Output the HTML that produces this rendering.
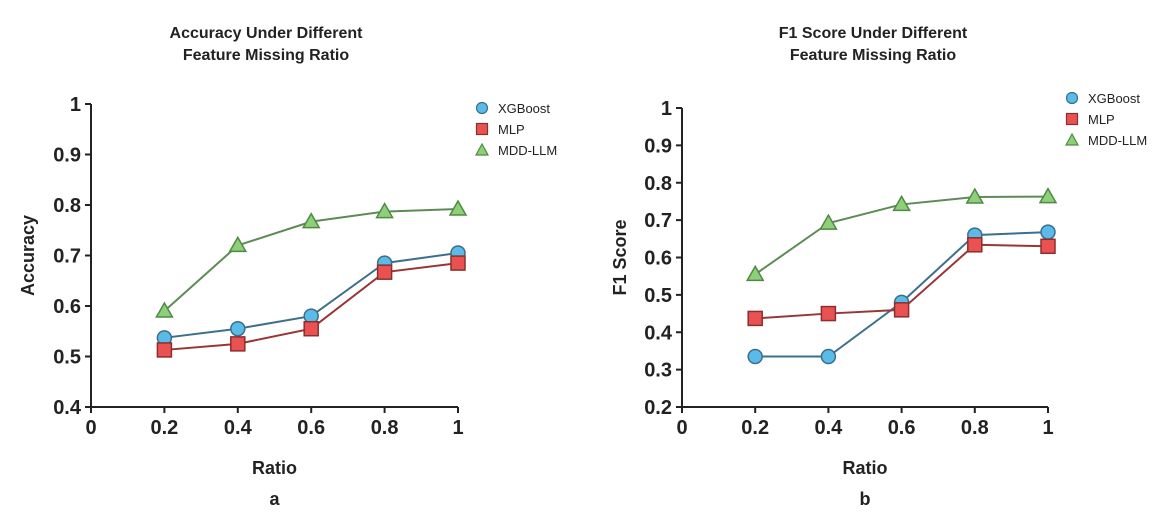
<!DOCTYPE html>
<html><head><meta charset="utf-8"><style>
body{margin:0;background:#fff}
svg{display:block;font-family:"Liberation Sans",Arial,sans-serif}
</style></head><body>
<svg id="s" width="1158" height="519" viewBox="0 0 1158 519"></svg>
<script>
const ratios=[0.2,0.4,0.6,0.8,1];
const xTicks=[0,0.2,0.4,0.6,0.8,1];
const accXGB=[0.537,0.555,0.58,0.685,0.705];
const accMLP=[0.513,0.525,0.555,0.667,0.685];
const accMDD=[0.59,0.72,0.767,0.787,0.792];
const f1XGB=[0.335,0.335,0.48,0.66,0.668];
const f1MLP=[0.437,0.45,0.46,0.634,0.63];
const f1MDD=[0.555,0.692,0.742,0.762,0.763];
const accTicks=[0.4,0.5,0.6,0.7,0.8,0.9,1];
const f1Ticks=[0.2,0.3,0.4,0.5,0.6,0.7,0.8,0.9,1];
const seriesNames=["XGBoost","MLP","MDD-LLM"];
const NS="http://www.w3.org/2000/svg";
const svg=document.getElementById('s');
function mk(t,a,p){const e=document.createElementNS(NS,t);for(const k in a)e.setAttribute(k,a[k]);(p||svg).appendChild(e);return e;}
function txt(s,a,p){const e=mk('text',a,p);e.textContent=s;return e;}
function marker(g,type,x,y){
  let e;
  if(type===0)e=mk('circle',{cx:x,cy:y,r:7,fill:'#5bbbe8',stroke:'#3a6f8a','stroke-width':1.5},g);
  else if(type===1)e=mk('rect',{x:x-7,y:y-7,width:14,height:14,fill:'#ea5252',stroke:'#8a2f2f','stroke-width':1.5},g);
  else e=mk('polygon',{points:`${x},${y-8} ${x-8},${y+6} ${x+8},${y+6}`,fill:'#8fcf7a',stroke:'#4e8a44','stroke-width':1.5},g);
  return e;
}
function chart(o){
  const g=mk('g',{});
  
  
  const X=v=>o.x0+(o.x1-o.x0)*v;
  const Y=v=>o.yb+(o.yt-o.yb)*(v-o.ymin)/(o.ymax-o.ymin);
  const t1=txt(o.title[0],{x:o.cx,y:38,'text-anchor':'middle','font-size':16,'font-weight':'bold',fill:'#222'},g);
  
  const t2=txt(o.title[1],{x:o.cx,y:60,'text-anchor':'middle','font-size':16,'font-weight':'bold',fill:'#222'},g);
  
  const ya=mk('line',{x1:o.x0,y1:o.yb,x2:o.x0,y2:o.yt,stroke:'#222','stroke-width':2},g);
  
  const xa=mk('line',{x1:o.x0,y1:o.yb,x2:X(1),y2:o.yb,stroke:'#222','stroke-width':2},g);
  
  o.yticks.forEach(v=>{
    mk('line',{x1:o.x0-6,y1:Y(v),x2:o.x0,y2:Y(v),stroke:'#222','stroke-width':2},g);
    const l=txt(String(v),{x:o.x0-10,y:Y(v)+7,'text-anchor':'end','font-size':20,'font-weight':'bold',fill:'#222'},g);
    
  });
  xTicks.forEach(v=>{
    mk('line',{x1:X(v),y1:o.yb,x2:X(v),y2:o.yb+6,stroke:'#222','stroke-width':2},g);
    const l=txt(String(v),{x:X(v),y:o.yb+27,'text-anchor':'middle','font-size':20,'font-weight':'bold',fill:'#222'},g);
    
  });
  const xt=txt('Ratio',{x:(o.x0+X(1))/2,y:474,'text-anchor':'middle','font-size':18,'font-weight':'bold',fill:'#222'},g);
  
  const pl=txt(o.panel,{x:(o.x0+X(1))/2,y:505,'text-anchor':'middle','font-size':18,'font-weight':'bold',fill:'#222'},g);
  
  const yt=txt(o.ytitle,{x:0,y:0,'text-anchor':'middle','font-size':18,'font-weight':'bold',fill:'#222',transform:`translate(${o.ytx},${(o.yb+o.yt)/2}) rotate(-90)`},g);
  
  const cols=['#3d6f8c','#9a3535','#5e8a57'];
  o.series.forEach((s,i)=>{
    const pts=ratios.map((r,j)=>X(r)+','+Y(s[j])).join(' ');
    const ln=mk('polyline',{points:pts,fill:'none',stroke:cols[i],'stroke-width':2},g);
    
  });
  o.series.forEach((s,i)=>{
    ratios.forEach((r,j)=>{
      const m=marker(g,i,X(r),Y(s[j]));
      
      
    });
  });
  seriesNames.forEach((n,i)=>{
    const ly=o.ly+i*21;
    const lg=mk('g',{},g);
    
    if(i===0)mk('circle',{cx:o.lx,cy:ly,r:5.5,fill:'#5bbbe8',stroke:'#3a6f8a','stroke-width':1.2},lg);
    else if(i===1)mk('rect',{x:o.lx-5.5,y:ly-5.5,width:11,height:11,fill:'#ea5252',stroke:'#8a2f2f','stroke-width':1.2},lg);
    else mk('polygon',{points:`${o.lx},${ly-6} ${o.lx-6},${ly+5} ${o.lx+6},${ly+5}`,fill:'#8fcf7a',stroke:'#4e8a44','stroke-width':1.2},lg);
    txt(n,{x:o.lx+16,y:ly+5,'font-size':13,fill:'#222'},lg);
  });
}
chart({name:'accuracy-chart',title:['Accuracy Under Different','Feature Missing Ratio'],cx:266,x0:91,x1:458,yb:407,yt:104,ymin:0.4,ymax:1,yticks:accTicks,series:[accXGB,accMLP,accMDD],ytitle:'Accuracy',ytx:34,panel:'a',lx:482,ly:108});
chart({name:'f1-chart',title:['F1 Score Under Different','Feature Missing Ratio'],cx:873,x0:682,x1:1048,yb:407,yt:108,ymin:0.2,ymax:1,yticks:f1Ticks,series:[f1XGB,f1MLP,f1MDD],ytitle:'F1 Score',ytx:626,panel:'b',lx:1072,ly:98});
</script>
</body></html>
